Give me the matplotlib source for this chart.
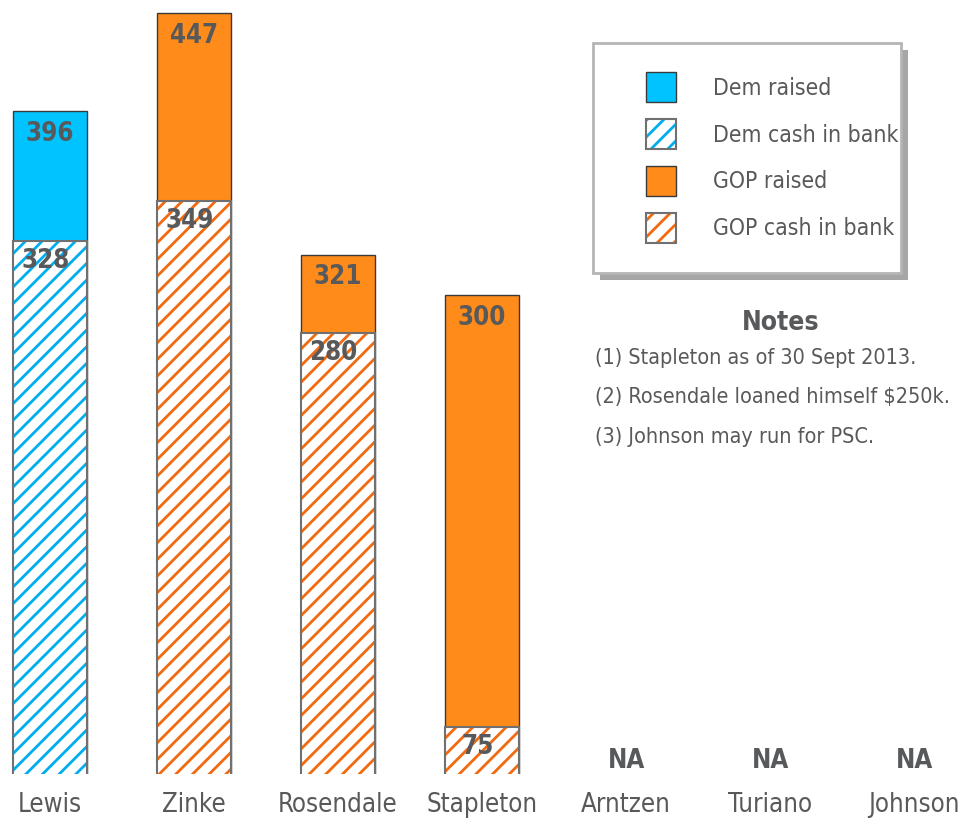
import numpy as np
import matplotlib
matplotlib.use('Agg')
import matplotlib.pyplot as plt
from matplotlib.patches import Rectangle
from matplotlib.legend_handler import HandlerTuple

plt.rcParams['font.family'] = ['DejaVu Sans']
plt.rcParams['font.stretch'] = 'condensed'
plt.rcParams['hatch.linewidth'] = 2.0

# data (thousands of dollars)
candidates = ['Lewis', 'Zinke', 'Rosendale', 'Stapleton', 'Arntzen', 'Turiano', 'Johnson']
party = ['Dem', 'GOP', 'GOP', 'GOP', 'GOP', 'GOP', 'GOP']
raised = [396, 447, 321, 300, np.nan, np.nan, np.nan]
cash = [328, 349, 280, 75, np.nan, np.nan, np.nan]
notes = ['(1) Stapleton as of 30 Sept 2013.',
         '(2) Rosendale loaned himself $250k.',
         '(3) Johnson may run for PSC.']

colors = {'Dem': '#00C3FF', 'GOP': '#FF8C1A'}
hatch_colors = {'Dem': '#00AEEF', 'GOP': '#F26A10'}
txt = '#58595B'

W, H = 966, 825
fig = plt.figure(figsize=(W / 100, H / 100), dpi=100)
ax = fig.add_axes([0, 51 / H, 1, 1 - 51 / H])
ax.patch.set_visible(False)

x = np.arange(len(candidates))
width = 0.52
handles = {}
for i, name in enumerate(candidates):
    p = party[i]
    if np.isnan(raised[i]):
        ax.annotate('NA', xy=(x[i], 50.3), xytext=(0, 0), textcoords='offset points',
                    ha='center', va='bottom', fontsize=18.5, fontweight='bold', color=txt)
        continue
    r = ax.bar(x[i], raised[i], width, color=colors[p], edgecolor='#3A3A3A', linewidth=1, zorder=2)
    c = ax.bar(x[i], cash[i], width, color='white', edgecolor=hatch_colors[p], hatch='//',
               linewidth=0, zorder=3)
    o = ax.bar(x[i], cash[i], width, fill=False, edgecolor='#707070', linewidth=1.5, zorder=4)
    handles.setdefault(p + ' raised', r)
    handles.setdefault(p + ' cash in bank', (c, o))
    ax.annotate(f'{raised[i]:.0f}', xy=(x[i], raised[i]), xytext=(0, -7), textcoords='offset points',
                ha='center', va='top', fontsize=18.5, fontweight='bold', color=txt, zorder=5)
    ax.annotate(f'{cash[i]:.0f}', xy=(x[i] - 0.03, cash[i]), xytext=(0, -5), textcoords='offset points',
                ha='center', va='top', fontsize=18.5, fontweight='bold', color=txt, zorder=5)

ax.set_xlim(-50 / 144, (W - 50) / 144)
ax.set_ylim(50.3, 453.8)
ax.set_xticks(x, candidates, fontsize=18.5, color=txt)
ax.tick_params(axis='x', length=0, pad=13)
ax.set_yticks([])
for s in ax.spines.values():
    s.set_visible(False)

# legend box with shadow, behind the axes
fig.patches.append(Rectangle((600 / W, 1 - 280 / H), 308 / W, 230 / H, transform=fig.transFigure,
                             facecolor='#A6A6A6', edgecolor='none', zorder=-2))
fig.patches.append(Rectangle((593 / W, 1 - 273 / H), 308 / W, 230 / H, transform=fig.transFigure,
                             facecolor='white', edgecolor='#B5B5B5', linewidth=2, zorder=-1))
order = ['Dem raised', 'Dem cash in bank', 'GOP raised', 'GOP cash in bank']
leg = ax.legend([handles[k] for k in order], order, loc='upper left',
                bbox_to_anchor=(635 / W, 1 - 61 / H), bbox_transform=fig.transFigure,
                frameon=False, fontsize=16.5, borderpad=0, handlelength=1.3, handleheight=1.6,
                handletextpad=1.6, labelspacing=0.76,
                handler_map={tuple: HandlerTuple(ndivide=1, pad=0)})
for t in leg.get_texts():
    t.set_color(txt)

fig.text(781 / W, 1 - 323 / H, 'Notes', ha='center', va='center', fontsize=19,
         fontweight='bold', color=txt)
for j, line in enumerate(notes):
    fig.text(595 / W, 1 - (358 + 39.5 * j) / H, line, ha='left', va='center', fontsize=15.5, color=txt)

fig.savefig('out.png', dpi=100)
